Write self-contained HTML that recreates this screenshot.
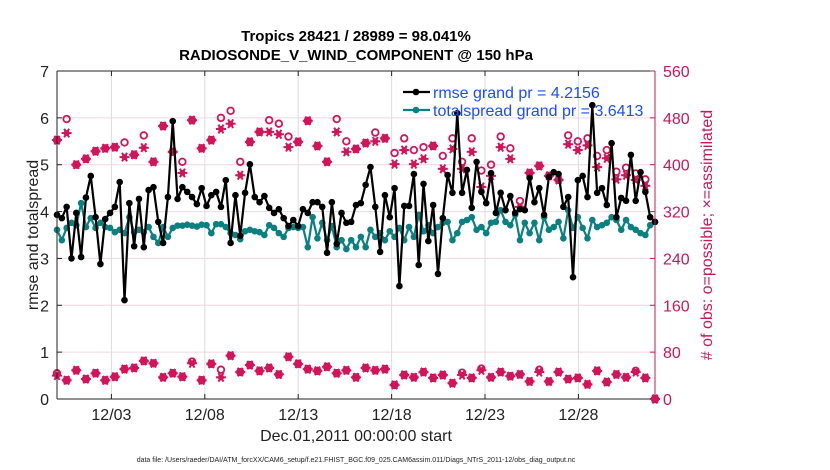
<!DOCTYPE html>
<html><head><meta charset="utf-8"><style>
body{margin:0;background:#fff;}
svg{display:block;font-family:"Liberation Sans",sans-serif;}
</style></head><body>
<svg id="c" width="830" height="470" xmlns="http://www.w3.org/2000/svg"></svg>
<script>
const rmse=[3.93,3.86,4.1,3.0,3.97,3.03,4.3,4.76,3.88,2.88,3.84,3.97,4.1,4.63,2.11,4.18,3.26,4.27,3.24,4.46,4.52,3.78,3.33,4.31,5.93,4.27,4.52,4.42,4.31,4.16,4.5,
4.12,4.35,4.42,4.1,4.67,3.33,4.35,3.48,4.4,5.01,4.31,4.2,4.33,4.08,3.97,4.05,3.86,3.69,3.82,3.69,4.05,3.97,4.2,4.2,4.1,3.12,4.2,3.31,3.97,3.76,3.78,4.14,
4.18,4.57,4.95,4.1,3.14,4.35,3.88,4.5,2.41,4.12,4.12,4.8,2.86,4.59,3.37,4.14,2.67,3.86,4.78,4.4,6.1,4.4,4.89,4.08,5.06,4.42,4.18,4.82,3.97,4.4,4.03,
4.33,3.97,4.05,4.03,4.72,4.2,4.5,3.93,4.74,4.84,4.8,4.1,4.31,2.6,4.67,4.76,4.31,6.27,4.4,4.5,4.14,5.46,3.88,4.29,4.23,5.21,4.23,4.84,4.42,3.88,3.78];
const spread=[3.61,3.39,3.65,3.76,3.71,4.18,3.67,3.86,3.65,3.76,3.67,3.65,3.56,3.61,3.54,3.88,3.56,3.61,3.56,3.67,3.46,3.33,3.67,3.46,3.65,3.7,3.7,3.72,3.7,3.68,3.72,
3.71,3.54,3.73,3.73,3.67,3.54,3.5,3.41,3.58,3.61,3.58,3.56,3.5,3.71,3.65,3.54,3.46,3.65,3.67,3.65,3.67,3.24,3.88,3.43,3.76,3.39,3.69,3.24,3.39,3.2,3.39,3.24,
3.46,3.24,3.61,3.46,3.54,3.39,3.58,3.46,3.65,3.39,3.67,3.46,3.93,3.58,3.71,3.54,3.67,3.76,3.78,3.39,3.54,3.78,3.82,3.88,3.61,3.67,3.54,3.76,3.78,4.03,3.78,
3.71,3.93,3.39,3.76,3.54,3.76,3.39,3.88,3.61,3.67,3.78,3.43,4.03,3.65,3.88,3.65,3.43,3.82,3.67,3.71,3.76,3.88,3.82,3.61,3.82,3.67,3.61,3.54,3.5,3.71,3.78];
const upAssim=[442,454,400,410,423,428,430,413,417,429,405,466,422,386,476,428,
442,461,470,382,439,456,456,452,430,439,475,432,405,456,422,427,
437,440,445,401,425,401,410,432,393,427,393,422,362,381,430,410,
328,386,398,381,374,435,425,433,396,411,375,382,374,364,0];
const upPoss=[442,478,400,410,423,428,430,438,417,450,405,466,422,405,476,428,
442,480,492,405,439,456,476,470,448,439,475,432,405,478,440,427,
437,455,445,420,445,425,430,432,415,445,405,445,390,400,448,428,
338,386,398,381,374,450,440,445,415,425,388,395,385,375,0];
const loAssim=[40,32,49,34,44,32,38,51,53,65,61,37,44,38,61,32,60,37,74,46,58,48,53,42,72,60,51,48,55,44,49,
37,53,49,51,24,41,37,46,36,41,27,41,36,49,37,46,39,42,30,46,30,46,34,36,25,48,29,42,37,46,36,0];
const loPoss=[44,32,49,34,44,32,38,51,53,65,61,37,44,38,64,32,60,50,74,46,58,48,53,42,72,60,51,48,55,44,49,
37,53,49,51,24,41,37,46,36,41,27,45,36,52,37,46,39,42,30,50,30,46,34,36,25,48,29,42,37,48,36,0];
const dateTicks=[3,8,13,18,23,28];
const dateLabels=["12/03","12/08","12/13","12/18","12/23","12/28"];
const leftTicks=[0,1,2,3,4,5,6,7];
const rightTicks=[0,80,160,240,320,400,480,560];

const X0=57,X1=655,Y0=399,Y1=71,D0=0.087,D1=32.1;
const xs=d=>X0+(d-D0)/(D1-D0)*(X1-X0);
const yl=v=>Y0-v/7*(Y0-Y1);
const yr=v=>Y0-v/560*(Y0-Y1);
const tAt=(i,n)=>D0+i*(D1-D0)/(n-1);
const svg=document.getElementById('c');
const NS='http://www.w3.org/2000/svg';
function mk(tag,attrs,parent){const e=document.createElementNS(NS,tag);for(const k in attrs)e.setAttribute(k,attrs[k]);(parent||svg).appendChild(e);return e;}
const PINK='#d3145a',TEAL='#0a8080',RED='#c8185a';

// grid
dateTicks.forEach(d=>{const l=mk('line',{x1:xs(d),x2:xs(d),y1:Y1,y2:Y0,stroke:'#dcdcdc','stroke-width':1});

});
rightTicks.forEach(v=>{const l=mk('line',{x1:X0,x2:X1,y1:yr(v),y2:yr(v),stroke:'#f2d6e2','stroke-width':1});

});

// pink markers
function star(x,y,g){mk('circle',{cx:x,cy:y,r:3,fill:PINK},g);
for(const a of [0,60,120]){const r=a*Math.PI/180;mk('line',{x1:x-5*Math.cos(r),y1:y-5*Math.sin(r),x2:x+5*Math.cos(r),y2:y+5*Math.sin(r),stroke:PINK,'stroke-width':2},g);}}
function ring(x,y,g){mk('circle',{cx:x,cy:y,r:3.3,fill:'none',stroke:PINK,'stroke-width':1.8},g);}
const gUp=mk('g',{});
upAssim.forEach((v,i)=>{const x=xs(tAt(i,upAssim.length));ring(x,yr(upPoss[i]),gUp);star(x,yr(v),gUp);});
const gLo=mk('g',{});
loAssim.forEach((v,i)=>{const x=xs(tAt(i,loAssim.length));ring(x,yr(loPoss[i]),gLo);star(x,yr(v),gLo);});

// lines
function series(arr,col,name){const g=mk('g',{});
const pts=arr.map((v,i)=>[xs(tAt(i,arr.length)),yl(v)]);
mk('polyline',{points:pts.map(p=>p.join(',')).join(' '),fill:'none',stroke:col,'stroke-width':2.2,'stroke-linejoin':'round'},g);
pts.forEach(p=>mk('circle',{cx:p[0],cy:p[1],r:3.3,fill:col},g));}
series(spread,TEAL,'totalspread-line');
series(rmse,'#000','rmse-line');

// axes
mk('line',{x1:X0,x2:X1,y1:Y1,y2:Y1,stroke:'#222','stroke-width':1});
mk('line',{x1:X0,x2:X1,y1:Y0,y2:Y0,stroke:'#222','stroke-width':1});
mk('line',{x1:X0,x2:X0,y1:Y1,y2:Y0,stroke:'#222','stroke-width':1});
mk('line',{x1:X1,x2:X1,y1:Y1,y2:Y0,stroke:RED,'stroke-width':1});
leftTicks.forEach(v=>{mk('line',{x1:X0,x2:X0+5,y1:yl(v),y2:yl(v),stroke:'#222'});
const t=mk('text',{x:X0-8,y:yl(v)+6,'text-anchor':'end','font-size':16,fill:'#222'});t.textContent=v;

});
rightTicks.forEach(v=>{mk('line',{x1:X1-5,x2:X1,y1:yr(v),y2:yr(v),stroke:RED});
const t=mk('text',{x:X1+8,y:yr(v)+6,'font-size':16,fill:RED});t.textContent=v;

});
dateTicks.forEach((d,i)=>{mk('line',{x1:xs(d),x2:xs(d),y1:Y0,y2:Y0-5,stroke:'#222'});mk('line',{x1:xs(d),x2:xs(d),y1:Y1,y2:Y1+5,stroke:'#222'});
const t=mk('text',{x:xs(d),y:420,'text-anchor':'middle','font-size':16,fill:'#222'});t.textContent=dateLabels[i];

});

// legend
function leg(y,col,txt,name){const g=mk('g',{});
mk('line',{x1:403,x2:430,y1:y,y2:y,stroke:col,'stroke-width':2.2},g);mk('circle',{cx:416,cy:y,r:3.3,fill:col},g);
const t=mk('text',{x:433,y:y+6,'font-size':16,fill:'#1a4dff'},g);t.textContent=txt;}
leg(92,'#000','rmse grand pr = 4.2156','legend-entry-rmse');
leg(110,TEAL,'totalspread grand pr = 3.6413','legend-entry-totalspread');
</script>
<script>
(function(){const svg=document.getElementById('c');const NS='http://www.w3.org/2000/svg';
function T(x,y,txt,attrs,name){const t=document.createElementNS(NS,'text');t.setAttribute('x',x);t.setAttribute('y',y);for(const k in attrs)t.setAttribute(k,attrs[k]);t.textContent=txt;


svg.appendChild(t);}
T(356,41,'Tropics 28421 / 28989 = 98.041%',{'text-anchor':'middle','font-size':15,'font-weight':'bold',fill:'#000'},'chart-title');
T(356,60,'RADIOSONDE_V_WIND_COMPONENT @ 150 hPa',{'text-anchor':'middle','font-size':15,'font-weight':'bold',fill:'#000'},'chart-subtitle');
T(356,441,'Dec.01,2011 00:00:00 start',{'text-anchor':'middle','font-size':16,fill:'#222'},'x-axis-title');
T(38,235,'rmse and totalspread',{'text-anchor':'middle','font-size':16,fill:'#222',transform:'rotate(-90 38 235)'},'y-axis-title-left');
T(712,235,'# of obs: o=possible; \u00d7=assimilated',{'text-anchor':'middle','font-size':16,fill:'#c8185a',transform:'rotate(-90 712 235)'},'y-axis-title-right');
T(356,462,'data file: /Users/raeder/DAI/ATM_forcXX/CAM6_setup/f.e21.FHIST_BGC.f09_025.CAM6assim.011/Diags_NTrS_2011-12/obs_diag_output.nc',{'text-anchor':'middle','font-size':7,fill:'#222'},'data-file-footnote');
})();
</script>
</body></html>
